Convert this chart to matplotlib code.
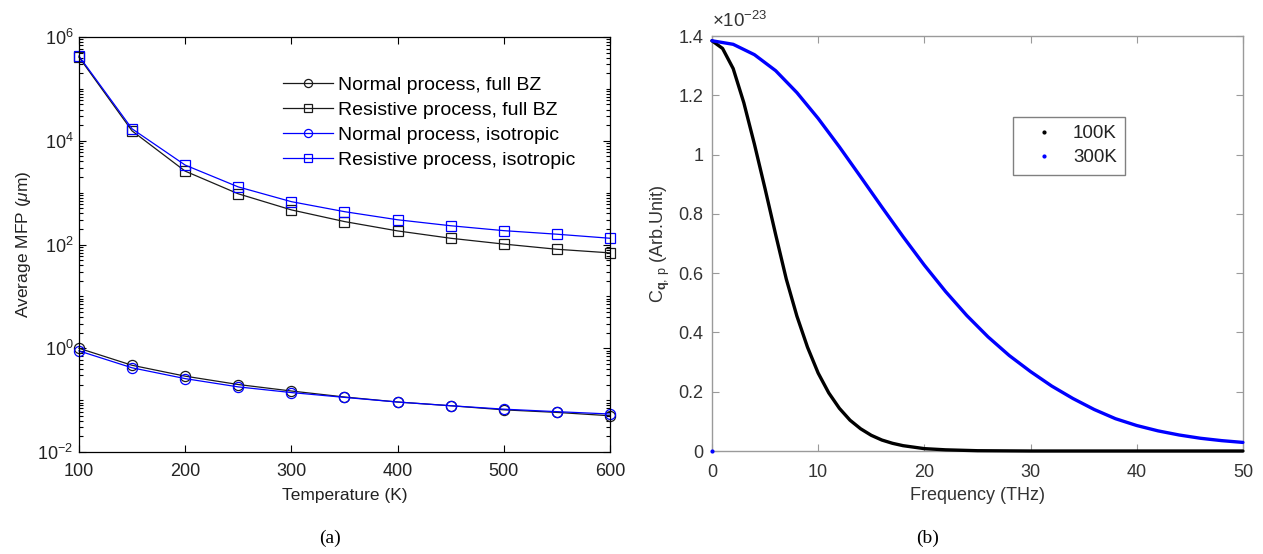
import numpy as np
import matplotlib
matplotlib.use("Agg")
import matplotlib.pyplot as plt
from matplotlib.lines import Line2D
from matplotlib.ticker import LogLocator, FuncFormatter, NullFormatter

plt.rcParams['font.family'] = ['Liberation Sans', 'DejaVu Sans']
plt.rcParams['mathtext.fontset'] = 'custom'
plt.rcParams['mathtext.rm'] = 'Liberation Sans'
plt.rcParams['mathtext.it'] = 'Liberation Sans:italic'
plt.rcParams['mathtext.bf'] = 'Liberation Sans:bold'

# (a) average mean free path vs temperature
temperature = [100, 150, 200, 250, 300, 350, 400, 450, 500, 550, 600]
normal_full = [1.0, 0.47, 0.29, 0.20, 0.15, 0.115, 0.092, 0.078, 0.065, 0.058, 0.050]
resistive_full = [4.1e5, 1.55e4, 2.6e3, 950, 465, 277, 183, 132, 102, 81, 69]
normal_iso = [0.89, 0.42, 0.26, 0.18, 0.14, 0.113, 0.092, 0.078, 0.067, 0.060, 0.054]
resistive_iso = [4.3e5, 1.7e4, 3.4e3, 1290, 670, 430, 300, 230, 185, 158, 132]

# (b) mode heat capacity vs frequency, in units of 1e-23
freq_100 = [0, 1, 2, 3, 4, 5, 6, 7, 8, 9, 10, 11, 12, 13, 14, 15, 16, 17, 18, 20, 22, 25,
            30, 40, 50]
cap_100 = [1.384, 1.358, 1.29, 1.175, 1.035, 0.885, 0.73, 0.58, 0.455, 0.35, 0.263, 0.196,
           0.144, 0.104, 0.075, 0.053, 0.037, 0.026, 0.018, 0.008, 0.004, 0.001, 0.0, 0.0, 0.0]
freq_300 = [0, 2, 4, 6, 8, 10, 12, 14, 16, 18, 20, 22, 24, 26, 28, 30, 32, 34, 36, 38, 40,
            42, 44, 46, 48, 50]
cap_300 = [1.384, 1.372, 1.337, 1.283, 1.209, 1.122, 1.026, 0.925, 0.823, 0.723, 0.627, 0.538,
           0.457, 0.385, 0.322, 0.268, 0.219, 0.177, 0.140, 0.109, 0.086, 0.068, 0.054, 0.043,
           0.035, 0.029]
# stray zero sample at the origin of the 300K set
freq_300_zero = [0]
cap_300_zero = [0]

fig = plt.figure(figsize=(12.63, 5.54), dpi=100)

# ---- left panel ----
ax1 = fig.add_axes([0.0625, 0.1841, 0.4204, 0.7491])
dark = '#1a1a1a'
ms = 7.3
style = dict(lw=0.9, ms=ms, mfc='none', mew=0.9, clip_on=False)
ax1.plot(temperature, normal_full, '-o', color=dark, label='Normal process, full BZ', **style)
ax1.plot(temperature, resistive_full, '-s', color=dark, label='Resistive process, full BZ', **style)
ax1.plot(temperature, normal_iso, '-o', color='#0000ff', label='Normal process, isotropic', **style)
ax1.plot(temperature, resistive_iso, '-s', color='#0000ff', label='Resistive process, isotropic',
         **style)
ax1.set_yscale('log')
ax1.set_xlim(100, 600)
ax1.set_ylim(1e-2, 1e6)
ax1.set_xticks([100, 200, 300, 400, 500, 600])
ax1.set_yticks([1e-2, 1e0, 1e2, 1e4, 1e6])
ax1.yaxis.set_minor_locator(LogLocator(base=10, subs=np.arange(1, 10), numticks=50))
ax1.yaxis.set_minor_formatter(NullFormatter())
ax1.tick_params(which='both', direction='in', top=True, right=True, colors='black',
                labelcolor='#222222', labelsize=13, width=0.8)
ax1.tick_params(which='major', length=5)
ax1.tick_params(axis='x', which='major', pad=8)
ax1.tick_params(axis='y', which='major', pad=4)
ax1.tick_params(which='minor', length=3)
for sp in ax1.spines.values():
    sp.set_color('black')
    sp.set_linewidth(0.9)
ax1.set_xlabel('Temperature (K)', fontsize=12.5, color='#222222', labelpad=6)
ax1.set_ylabel(r'Average MFP ($\mu$m)', fontsize=12.5, color='#222222', labelpad=3)
leg1 = ax1.legend(loc='upper left', bbox_to_anchor=(0.384, 0.905), frameon=False,
                  fontsize=14, handlelength=2.6, handletextpad=0.25, borderpad=0,
                  labelspacing=0.38, markerscale=0.8, borderaxespad=0)

# ---- right panel ----
ax2 = fig.add_axes([0.5637, 0.1859, 0.4204, 0.7491])
ax2.plot(freq_100, cap_100, '-', color='black', lw=2.4, solid_capstyle='round',
         solid_joinstyle='round', clip_on=False, zorder=3)
ax2.plot(freq_300, cap_300, '-', color='#0000ff', lw=2.4, solid_capstyle='round',
         solid_joinstyle='round', clip_on=False, zorder=3)
ax2.plot(freq_300_zero, cap_300_zero, '.', color='#0000ff', ms=4, clip_on=False, zorder=4)
ax2.set_xlim(0, 50)
ax2.set_ylim(0, 1.4)
ax2.set_xticks([0, 10, 20, 30, 40, 50])
ax2.set_yticks([0, 0.2, 0.4, 0.6, 0.8, 1.0, 1.2, 1.4])
ax2.yaxis.set_major_formatter(FuncFormatter(lambda v, p: '%g' % round(v, 2)))
ax2.tick_params(direction='in', top=True, right=True, colors='#9a9a9a',
                labelcolor='#333333', labelsize=13, length=5, width=0.8)
ax2.tick_params(axis='x', pad=9)
ax2.tick_params(axis='y', pad=6)
for sp in ax2.spines.values():
    sp.set_color('#9a9a9a')
    sp.set_linewidth(1.0)
ax2.text(0.0, 1.012, r'$\times10^{-23}$', transform=ax2.transAxes, ha='left', va='bottom',
         fontsize=13.5, color='#333333')
ax2.set_xlabel('Frequency (THz)', fontsize=13, color='#333333', labelpad=5)
ax2.set_ylabel(r'C$_{\mathbf{q},\,\mathrm{p}}$ (Arb.Unit)', fontsize=13, color='#333333',
               labelpad=5)
handles = [Line2D([], [], ls='none', marker='.', ms=4, color='black'),
           Line2D([], [], ls='none', marker='.', ms=4, color='#0000ff')]
leg2 = ax2.legend(handles, ['100K', '300K'], loc='upper left', bbox_to_anchor=(0.567, 0.805),
                  fontsize=13.5, fancybox=False, edgecolor='#808080', framealpha=1,
                  handlelength=2.4, handletextpad=0.35, borderpad=0.45, labelspacing=0.35,
                  borderaxespad=0)
leg2.get_frame().set_linewidth(1.0)
for t in leg2.get_texts():
    t.set_color('#222222')

# panel captions
fig.text(330 / 1263, 1 - 538 / 554, '(a)', ha='center', va='center', fontsize=14,
         family='Liberation Serif')
fig.text(928 / 1263, 1 - 538 / 554, '(b)', ha='center', va='center', fontsize=14,
         family='Liberation Serif')

fig.savefig('out.png', dpi=100)
